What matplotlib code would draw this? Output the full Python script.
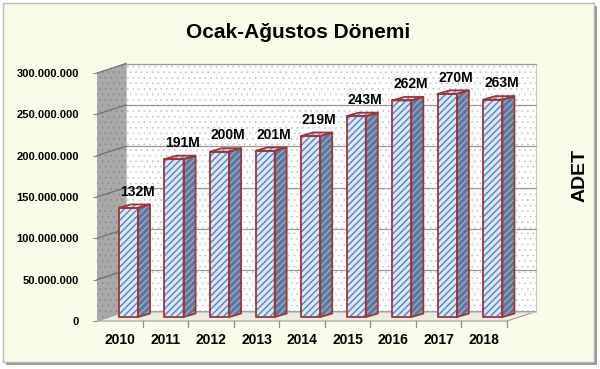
import matplotlib.pyplot as plt
from matplotlib.patches import Polygon, Rectangle
import numpy as np

plt.rcParams['hatch.linewidth'] = 0.9

# veriler
yillar = ['2010', '2011', '2012', '2013', '2014', '2015', '2016', '2017', '2018']
adet = [132e6, 191e6, 200e6, 201e6, 219e6, 243e6, 262e6, 270e6, 263e6]
etiketler = ['132M', '191M', '200M', '201M', '219M', '243M', '262M', '270M', '263M']
y_ticks = [0, 50e6, 100e6, 150e6, 200e6, 250e6, 300e6]
y_tick_labels = ['0', '50.000.000', '100.000.000', '150.000.000',
                 '200.000.000', '250.000.000', '300.000.000']


def tarama(p, lw):
    # hatch kalinligi (3.10'da artist basina)
    if hasattr(p, 'set_hatch_linewidth'):
        p.set_hatch_linewidth(lw)
    return p


W, H = 600, 369
fig = plt.figure(figsize=(W / 100, H / 100), dpi=100, facecolor='white')

# dis cerceve (golge + krem zemin)
fig.patches.append(Rectangle((6 / W, 1 - 365 / H), 591 / W, 359 / H, transform=fig.transFigure,
                             facecolor='#9a9a9a', edgecolor='none', zorder=0))
fig.patches.append(Rectangle((3 / W, 1 - 362 / H), 591 / W, 359 / H, transform=fig.transFigure,
                             facecolor='#fafbe9', edgecolor='#b8b8b0', linewidth=1, zorder=0.5))

# on duzlem: x 97..507 px, y 321..73 px
ax = fig.add_axes([97 / W, (H - 321) / H, 410 / W, 248 / H])
ax.set_zorder(5)
ax.set_facecolor('none')
ax.set_xlim(-0.5, 8.5)
ax.set_ylim(0, 300e6)
for s in ax.spines.values():
    s.set_visible(False)

# 3B derinlik (veri birimi)
px_x = 1 / 45.56
px_y = 300e6 / 248
dx, dy = 29 * px_x, 9.5 * px_y
x0, x1 = -0.5, 8.5

# arka duvar
ax.add_patch(Rectangle((x0 + dx, dy), x1 - x0, 300e6, facecolor='white', edgecolor='none',
                       clip_on=False, zorder=0.5))
ax.add_patch(tarama(Rectangle((x0 + dx, dy), x1 - x0, 300e6, facecolor='none', edgecolor='#c4c4c4',
                              hatch='...', linewidth=0, clip_on=False, zorder=0.6), 0.5))
ax.add_patch(Rectangle((x0 + dx, dy), x1 - x0, 300e6, facecolor='none', edgecolor='#c8c8c8',
                       linewidth=0.8, clip_on=False, zorder=0.7))
# yan duvar
yan = [(x0, 0), (x0, 300e6), (x0 + dx, 300e6 + dy), (x0 + dx, dy)]
ax.add_patch(Polygon(yan, facecolor='#a9a9a9', edgecolor='none', clip_on=False, zorder=0.5))
ax.add_patch(tarama(Polygon(yan, facecolor='none', edgecolor='#8a8a8a', hatch='...', linewidth=0,
                            clip_on=False, zorder=0.6), 0.5))
# taban
taban = [(x0, 0), (x1, 0), (x1 + dx, dy), (x0 + dx, dy)]
ax.add_patch(Polygon(taban, facecolor='#ecece0', edgecolor='#a0a0a0', linewidth=0.8,
                     clip_on=False, zorder=0.6))

# kilavuz cizgileri
for t in y_ticks[1:]:
    ax.plot([x0 + dx, x1 + dx], [t + dy, t + dy], color='#999999', lw=0.9, zorder=0.8, clip_on=False)
    ax.plot([x0, x0 + dx], [t, t + dy], color='#6f6f6f', lw=0.9, zorder=0.8, clip_on=False)

# cubuklar
kay_x, kay_y = 0.19, 4.8e6
gen = 0.42
bx, by = 12 * px_x, 3.5 * px_y
kenar = '#a13535'
x = np.arange(len(yillar))
for i, v in zip(x, adet):
    sol = i + kay_x - gen / 2
    sag = i + kay_x + gen / 2
    ust = kay_y + v
    on = [(sol, kay_y), (sag, kay_y), (sag, ust), (sol, ust)]
    yanyuz = [(sag, kay_y), (sag + bx, kay_y + by), (sag + bx, ust + by), (sag, ust)]
    tepe = [(sol, ust), (sag, ust), (sag + bx, ust + by), (sol + bx, ust + by)]
    for poly, fc, hc in [(on, '#dde8f6', '#5a8bcc'),
                         (yanyuz, '#5e7699', '#93a8c6'),
                         (tepe, '#d5e2f3', '#6f98cc')]:
        ax.add_patch(Polygon(poly, facecolor=fc, edgecolor='none', zorder=2, clip_on=False))
        ax.add_patch(tarama(Polygon(poly, facecolor='none', edgecolor=hc, hatch='/////', linewidth=0,
                                    zorder=2.1, clip_on=False), 1.1))
        ax.add_patch(Polygon(poly, facecolor='none', edgecolor=kenar, linewidth=1.3,
                             joinstyle='round', zorder=2.2, clip_on=False))

for i, v, e in zip(x, adet, etiketler):
    ax.text(i + 0.38, v + kay_y + by + 7e6, e, ha='center', va='bottom',
            fontsize=10, fontweight='bold', family='Liberation Sans', zorder=3)

# eksenler
ax.set_yticks(y_ticks)
ax.set_yticklabels(y_tick_labels, fontsize=8, fontweight='bold', family='Liberation Sans')
ax.tick_params(axis='y', length=3, color='#8c8c8c', pad=10)
ax.set_xticks(x)
ax.set_xticklabels(yillar, fontsize=10, fontweight='bold', family='Liberation Sans')
ax.tick_params(axis='x', length=0, pad=9)
for b in np.arange(x0 + 1, x1 + 0.5, 1):
    ax.plot([b, b], [0, -6 * px_y], color='#8c8c8c', lw=0.9, clip_on=False, zorder=1)

fig.text(298 / W, 1 - 33 / H, 'Ocak-Ağustos Dönemi', ha='center', va='center',
         fontsize=15, fontweight='bold', family='Liberation Sans')
fig.text(580 / W, 1 - 175 / H, 'ADET', ha='center', va='center', rotation=90,
         fontsize=14, fontweight='bold', family='Liberation Sans')

fig.savefig('out.png', dpi=100, facecolor=fig.get_facecolor())
